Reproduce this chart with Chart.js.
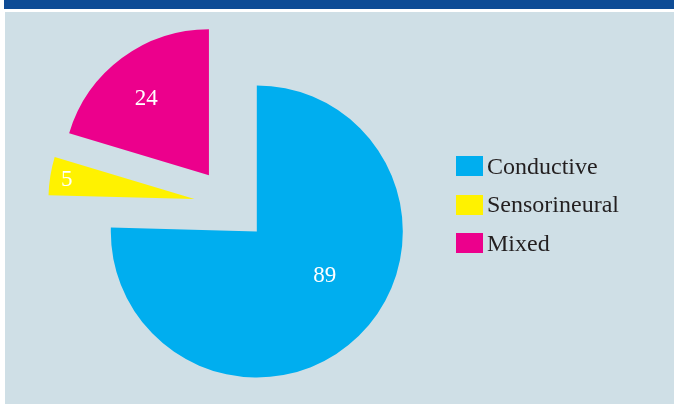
<!DOCTYPE html>
<html>
<head>
<meta charset="utf-8">
<script src="https://cdn.jsdelivr.net/npm/chart.js@4.4.1/dist/chart.umd.min.js"></script>
<style>
  body { margin: 0; background: #ffffff; width: 674px; height: 404px; overflow: hidden; position: relative; }
  #topbar { position: absolute; left: 4px; top: 0; width: 670px; height: 9px; background: #0e4c96; }
  #panel { position: absolute; left: 5px; top: 12px; width: 669px; height: 392px; background: #cfdfe6; }
  #pie { position: absolute; left: 0; top: 0; }
  #legend { position: absolute; left: 451px; top: 135px; font-family: "Liberation Serif", "Times New Roman", serif; font-size: 24px; color: #231f20; }
  .row { display: flex; align-items: center; height: 38.5px; }
  .box { width: 27px; height: 20px; margin-right: 4px; }
</style>
</head>
<body>
<div id="topbar"></div>
<div id="panel">
  <canvas id="pie" width="452" height="386"></canvas>
  <div id="legend"></div>
</div>
<script>
const labels = ['Conductive', 'Sensorineural', 'Mixed'];
const values = [89, 5, 24];
const colors = ['#00aeef', '#fff200', '#ec008c'];

// where each number sits inside its slice: share of radius, share of the sweep
const labelRadius = [0.55, 0.887, 0.685];
const labelSweep = [0.45, 0.53, 0.47];

// pulls every slice away from the middle by the same distance
const explode = {
    id: 'explode',
    afterDatasetUpdate(chart, args, opts) {
        args.meta.data.forEach(arc => {
            const mid = (arc.startAngle + arc.endAngle) / 2;
            arc.x += Math.cos(mid) * opts.distance;
            arc.y += Math.sin(mid) * opts.distance;
        });
    }
};

const sliceValues = {
    id: 'sliceValues',
    afterDatasetsDraw(chart) {
        const ctx = chart.ctx;
        const meta = chart.getDatasetMeta(0);
        ctx.save();
        ctx.fillStyle = '#ffffff';
        ctx.font = '23px "Liberation Serif", "Times New Roman", serif';
        ctx.textAlign = 'center';
        ctx.textBaseline = 'middle';
        meta.data.forEach((arc, i) => {
            const a = arc.startAngle + labelSweep[i] * (arc.endAngle - arc.startAngle);
            const d = labelRadius[i] * arc.outerRadius;
            ctx.fillText(String(values[i]), arc.x + Math.cos(a) * d, arc.y + Math.sin(a) * d + 2);
        });
        ctx.restore();
    }
};

new Chart(document.getElementById('pie'), {
    type: 'pie',
    data: {
        labels: labels,
        datasets: [{
            data: values,
            backgroundColor: colors,
            borderWidth: 0,
            clip: false
        }]
    },
    options: {
        responsive: false,
        animation: false,
        radius: 146,
        layout: { padding: 0 },
        events: [],
        plugins: {
            legend: { display: false },
            tooltip: { enabled: false },
            explode: { distance: 37 }
        }
    },
    plugins: [explode, sliceValues]
});

// legend beside the pie
const legendEl = document.getElementById('legend');
labels.forEach((name, i) => {
    const row = document.createElement('div');
    row.className = 'row';
    const box = document.createElement('div');
    box.className = 'box';
    box.style.background = colors[i];
    const txt = document.createElement('span');
    txt.textContent = name;
    row.appendChild(box);
    row.appendChild(txt);
    legendEl.appendChild(row);
});
</script>
</body>
</html>
